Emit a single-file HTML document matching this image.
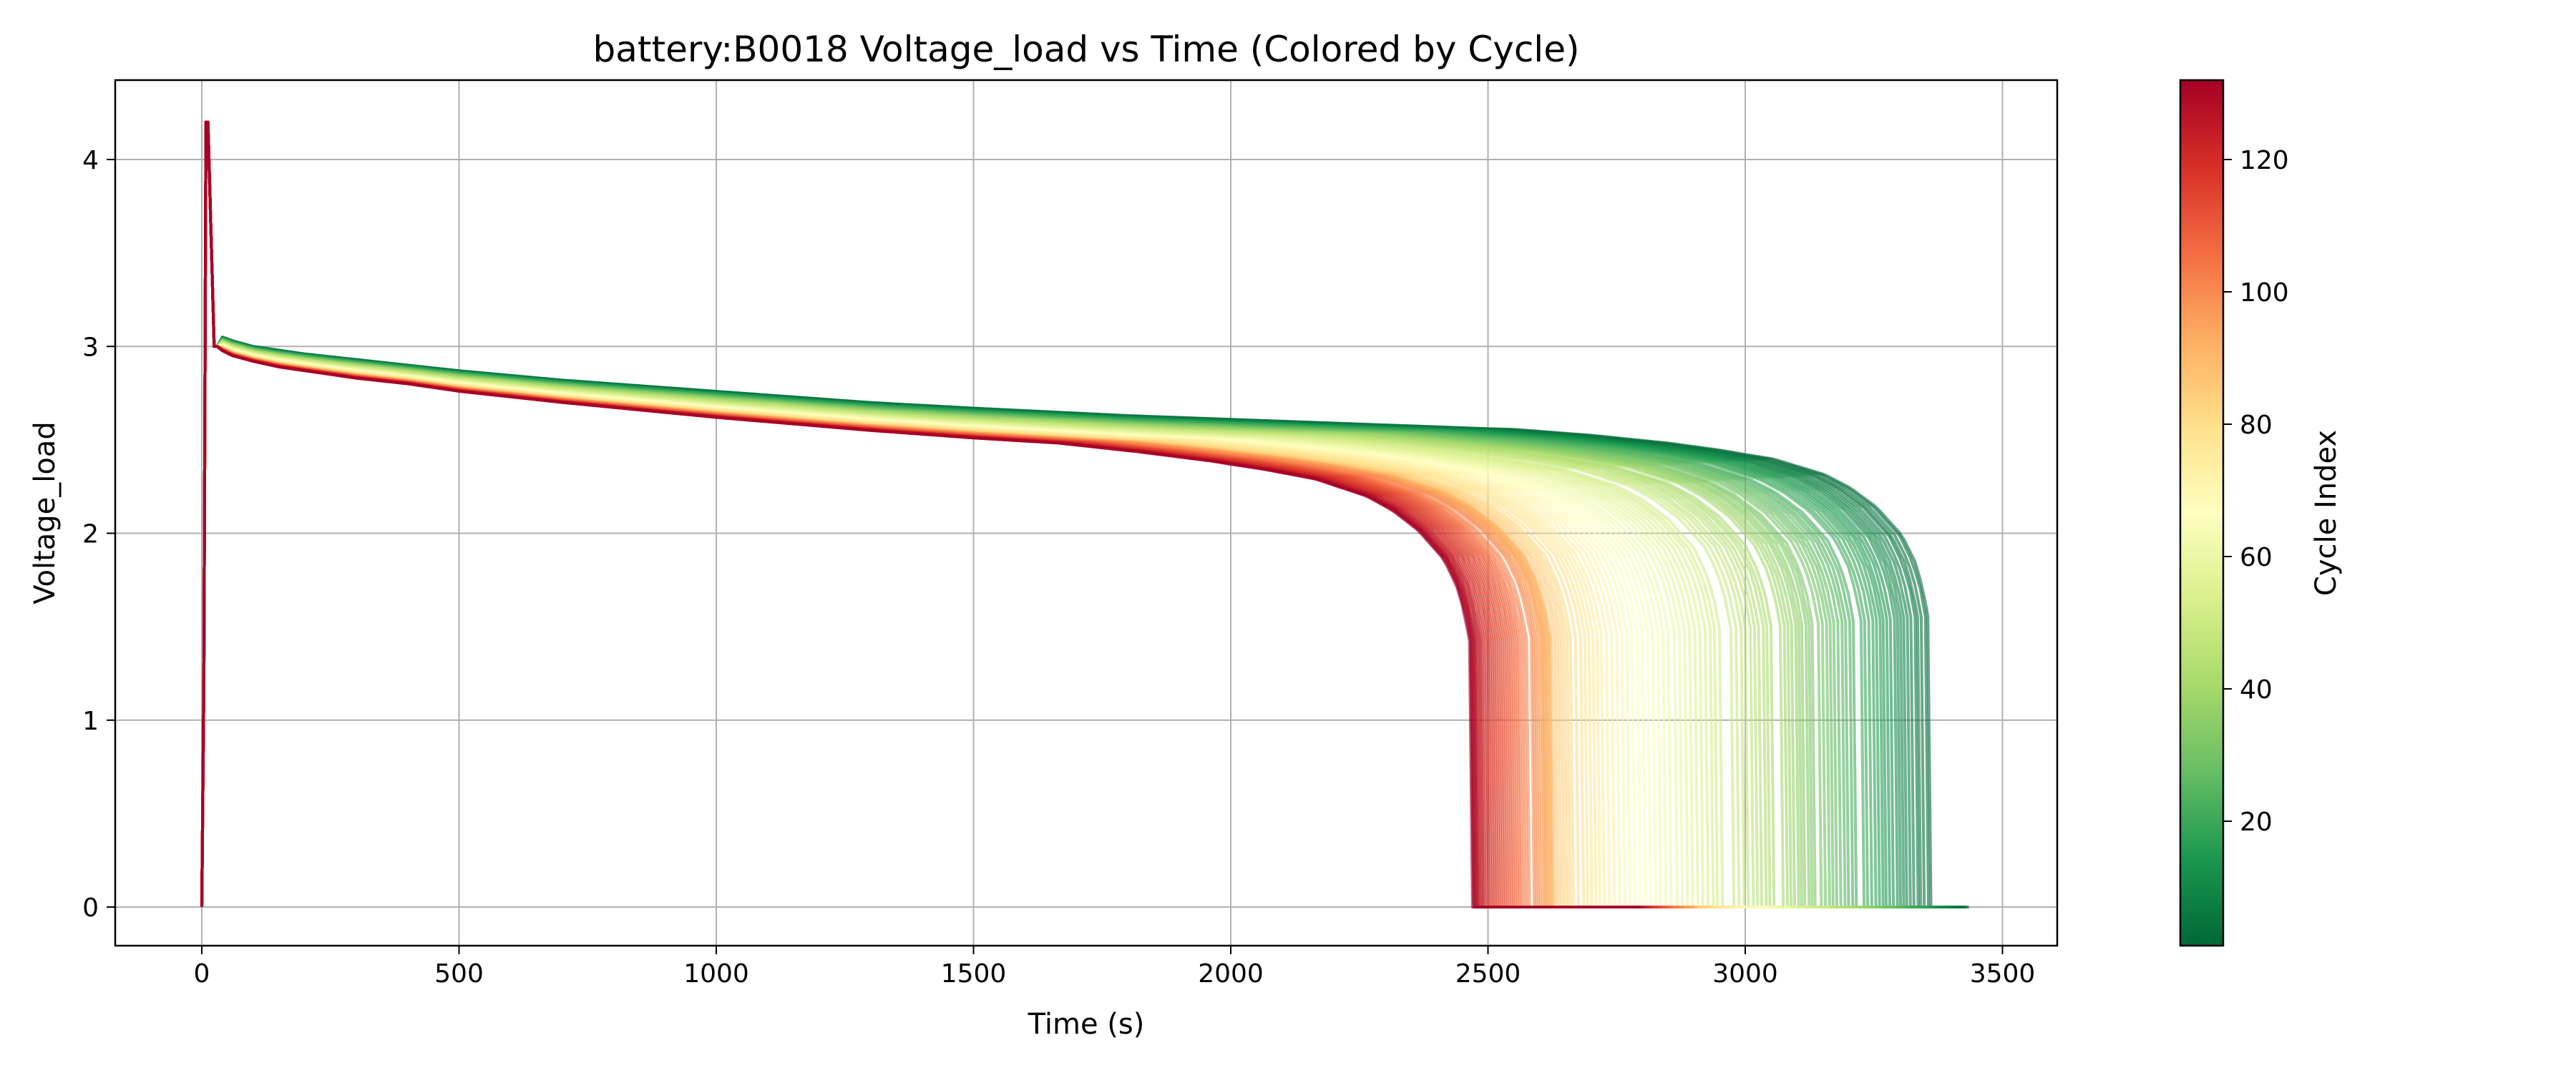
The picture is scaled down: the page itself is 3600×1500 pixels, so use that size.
<!DOCTYPE html>
<html><head><meta charset="utf-8">
<style>
html,body{margin:0;padding:0;background:#fff;}
svg{display:block;font-family:"DejaVu Sans","Liberation Sans",sans-serif;}
</style></head>
<body>
<svg id="chart" width="3600" height="1500" viewBox="0 0 3600 1500" xmlns="http://www.w3.org/2000/svg">
<defs>
<linearGradient id="cbgrad" x1="0" y1="1" x2="0" y2="0">
<stop offset="0" stop-color="#006837"/><stop offset="0.1" stop-color="#1a9850"/><stop offset="0.2" stop-color="#66bd63"/><stop offset="0.3" stop-color="#a6d96a"/><stop offset="0.4" stop-color="#d9ef8b"/><stop offset="0.5" stop-color="#ffffbf"/><stop offset="0.6" stop-color="#fee08b"/><stop offset="0.7" stop-color="#fdae61"/><stop offset="0.8" stop-color="#f46d43"/><stop offset="0.9" stop-color="#d73027"/><stop offset="1" stop-color="#a50026"/>
</linearGradient>
<clipPath id="plotclip"><rect x="161" y="112" width="2714" height="1210"/></clipPath>
</defs>
<text x="1518" y="86" font-size="50" text-anchor="middle">battery:B0018 Voltage_load vs Time (Colored by Cycle)</text>
<g id="grid"></g>
<g id="series" clip-path="url(#plotclip)"></g>
<rect x="161" y="112" width="2714" height="1210" fill="none" stroke="#000" stroke-width="2.5"/>
<g id="xticks"></g>
<g id="yticks"></g>
<text x="1518" y="1445" font-size="40" text-anchor="middle">Time (s)</text>
<text transform="translate(76,717) rotate(-90)" font-size="40" text-anchor="middle">Voltage_load</text>
<rect x="3047" y="112" width="60" height="1210" fill="url(#cbgrad)" stroke="#000" stroke-width="2.5"/>
<g id="cbticks"></g>
<text transform="translate(3264,717) rotate(-90)" font-size="40" text-anchor="middle">Cycle Index</text>
</svg>
<script>
const xTicks=[0,500,1000,1500,2000,2500,3000,3500];
const yTicks=[0,1,2,3,4];
const cbTicks=[20,40,60,80,100,120];
// discharge end time (s) for cycles 1..132
const dropTimes=[3355,3350,3342,3335,3330,3322,3315,3308,3302,3296,
3290,3282,3275,3268,3262,3255,3248,3240,3232,3225,
3210,3203,3195,3188,3180,3172,3165,3158,3150,3142,
3130,3124,3118,3110,3104,3098,3090,3083,3076,3068,
3050,3042,3035,3026,3018,3010,3000,2992,2982,2972,
2950,2940,2932,2922,2912,2902,2892,2882,2872,2862,
2850,2840,2830,2820,2810,2800,2790,2780,2770,2760,
2750,2740,2730,2720,2712,2704,2696,2688,2680,2670,
2660,2654,2648,2642,2636,2630,2624,2618,2612,2606,
2620,2616,2612,2608,2604,2600,2596,2592,2588,2584,
2575,2570,2565,2560,2556,2552,2548,2544,2540,2536,
2532,2528,2524,2520,2516,2512,2508,2504,2500,2496,
2492,2488,2485,2482,2479,2476,2474,2472,2470,2468,2466,2464];
const plateauT=[30,60,100,150,200,300,400,500,700,1000,1300,1500,1800,2000,2500,3000,3500];
const plateauNew=[3.06,3.03,3.00,2.98,2.96,2.93,2.90,2.87,2.82,2.76,2.70,2.67,2.63,2.61,2.56,2.52,2.50];
const plateauOld=[2.99,2.95,2.92,2.89,2.87,2.83,2.80,2.76,2.70,2.62,2.55,2.51,2.46,2.43,2.37,2.33,2.30];
const kneeR=[0,10,25,50,100,150,200,300,400,500,650,800,5000];
const kneeDrop=[0.95,0.80,0.66,0.52,0.37,0.27,0.20,0.12,0.08,0.05,0.02,0.0,0.0];
const spikeT=[0,4,8,12,24,30];
const spikeV=[0,1.2,4.2,4.2,3.0,3.0];

const X=t=>282+t*0.719;
const Y=v=>1268-v*261.25;
function cbY(c){return 223+(120-c)*9.25;}
function interp(xs,ys,x){if(x<=xs[0])return ys[0];for(let i=1;i<xs.length;i++){if(x<=xs[i]){const f=(x-xs[i-1])/(xs[i]-xs[i-1]);return ys[i-1]+f*(ys[i]-ys[i-1]);}}return ys[ys.length-1];}
const stops=["#006837","#1a9850","#66bd63","#a6d96a","#d9ef8b","#ffffbf","#fee08b","#fdae61","#f46d43","#d73027","#a50026"];
function hex(h){return [1,3,5].map(i=>parseInt(h.substr(i,2),16));}
function cmap(f){f=Math.max(0,Math.min(1,f));const p=f*10,i=Math.min(9,Math.floor(p)),r=p-i;const a=hex(stops[i]),b=hex(stops[i+1]);return "rgb("+a.map((v,k)=>Math.round(v+(b[k]-v)*r)).join(",")+")";}
const NS="http://www.w3.org/2000/svg";
function mk(tag,attrs,parent){const e=document.createElementNS(NS,tag);for(const k in attrs)e.setAttribute(k,attrs[k]);parent.appendChild(e);return e;}

const grid=document.getElementById('grid'),xg=document.getElementById('xticks'),yg=document.getElementById('yticks'),cg=document.getElementById('cbticks');
xTicks.forEach(t=>{
  const l=mk('line',{x1:X(t),x2:X(t),y1:112,y2:1322,stroke:'#b0b0b0','stroke-width':2},grid);
  
  
  const tk=mk('line',{x1:X(t),x2:X(t),y1:1322,y2:1334,stroke:'#000','stroke-width':2},xg);
  
  
  const tx=mk('text',{x:X(t),y:1373,'font-size':36,'text-anchor':'middle'},xg);tx.textContent=t;
  
  
});
yTicks.forEach(v=>{
  const l=mk('line',{x1:161,x2:2875,y1:Y(v),y2:Y(v),stroke:'#b0b0b0','stroke-width':2},grid);
  
  
  const tk=mk('line',{x1:149,x2:161,y1:Y(v),y2:Y(v),stroke:'#000','stroke-width':2},yg);
  
  
  const tx=mk('text',{x:138,y:Y(v)+13,'font-size':36,'text-anchor':'end'},yg);tx.textContent=v;
  
  
});
cbTicks.forEach(c=>{
  const tk=mk('line',{x1:3107,x2:3119,y1:cbY(c),y2:cbY(c),stroke:'#000','stroke-width':2},cg);
  
  
  const tx=mk('text',{x:3130,y:cbY(c)+13,'font-size':36},cg);tx.textContent=c;
  
  
});

const series=document.getElementById('series');
const n=dropTimes.length;
const dMax=Math.max(...dropTimes),dMin=Math.min(...dropTimes);
for(let i=0;i<n;i++){
  const te=dropTimes[i];
  const f=(dMax-te)/(dMax-dMin);
  const pts=[];
  for(let k=0;k<spikeT.length;k++)pts.push([spikeT[k],spikeV[k]]);
  for(let t=40;t<te;t+=10){
    const pn=interp(plateauT,plateauNew,t),po=interp(plateauT,plateauOld,t);
    pts.push([t,pn+(po-pn)*f-interp(kneeR,kneeDrop,te-t)]);
  }
  const pn=interp(plateauT,plateauNew,te),po=interp(plateauT,plateauOld,te);
  pts.push([te,pn+(po-pn)*f-kneeDrop[0]]);
  pts.push([te+6,0]);
  pts.push([te+80+250*f,0]);
  const d=pts.map((p,k)=>(k?'L':'M')+X(p[0]).toFixed(1)+','+Y(p[1]).toFixed(1)).join('');
  const path=mk('path',{d:d,fill:'none',stroke:cmap(i/(n-1)),'stroke-width':4,'stroke-opacity':0.6,'stroke-linejoin':'round'},series);
  
  
}
</script>
</body></html>
